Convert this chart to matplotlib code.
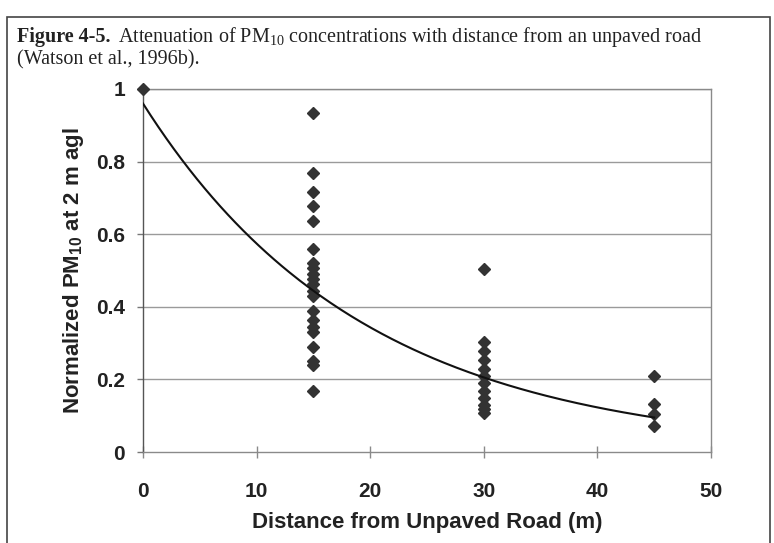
import numpy as np
import matplotlib
matplotlib.use("Agg")
import matplotlib.pyplot as plt
from matplotlib.patches import Rectangle

plt.rcParams['mathtext.fontset'] = 'custom'
plt.rcParams['mathtext.rm'] = 'Liberation Serif'
plt.rcParams['mathtext.sf'] = 'Liberation Sans:bold'

# Data
dist_0 = [0]
vals_0 = [1.00]
dist_15 = [15] * 21
vals_15 = [0.933, 0.769, 0.716, 0.679, 0.637, 0.560, 0.520, 0.506, 0.491,
           0.477, 0.463, 0.444, 0.429, 0.389, 0.363, 0.344, 0.331, 0.288,
           0.250, 0.239, 0.167]
dist_30 = [30] * 12
vals_30 = [0.503, 0.302, 0.277, 0.253, 0.229, 0.210, 0.191, 0.167, 0.148,
           0.129, 0.119, 0.108]
dist_45 = [45] * 4
vals_45 = [0.210, 0.131, 0.104, 0.072]

# Exponential trendline parameters (y = a * exp(-b x))
fit_a = 0.96
fit_b = 0.0514
fit_xmax = 45

x_ticks = [0, 10, 20, 30, 40, 50]
y_ticks = [0, 0.2, 0.4, 0.6, 0.8, 1]
y_ticklabels = ['0', '0.2', '0.4', '0.6', '0.8', '1']

W, H = 774, 543
fig = plt.figure(figsize=(W / 100, H / 100), dpi=100)

# frame around the figure
fig.patches.append(Rectangle((7 / W, -0.02), (770 - 7) / W, 1 - 17 / H + 0.02,
                             transform=fig.transFigure, fill=False,
                             edgecolor='#444444', linewidth=1.2))

# title
TFS = 14.5
t1 = fig.text(17 / W, 1 - 42 / H, "Figure 4-5.", fontfamily='Liberation Serif',
              fontweight='bold', fontsize=TFS, color='#222222')
fig.canvas.draw()
bb = t1.get_window_extent()
fig.text(bb.x1 / W + 7 / W, 1 - 42 / H,
         r"Attenuation of PM$_{10}$ concentrations with distance from an unpaved road",
         fontfamily='Liberation Serif', fontsize=TFS, color='#222222')
fig.text(17 / W, 1 - 64 / H, "(Watson et al., 1996b).",
         fontfamily='Liberation Serif', fontsize=TFS, color='#222222')

ax = fig.add_axes([143 / W, 1 - 452 / H, (711 - 143) / W, (452 - 89) / H])

xs = [dist_0, dist_15, dist_30, dist_45]
ys = [vals_0, vals_15, vals_30, vals_45]
for xv, yv in zip(xs, ys):
    ax.plot(xv, yv, linestyle='none', marker='D', markersize=6.5,
            color='#333333', zorder=3, clip_on=False)

xf = np.linspace(0, fit_xmax, 200)
ax.plot(xf, fit_a * np.exp(-fit_b * xf), color='#111111', linewidth=1.5, zorder=4)

ax.set_xlim(0, 50)
ax.set_ylim(0, 1)
ax.set_xticks(x_ticks)
ax.set_yticks(y_ticks)
ax.set_yticklabels(y_ticklabels)
for yv in y_ticks[1:]:
    ax.axhline(yv, color='#9a9a9a', linewidth=1.0, zorder=1)

for s in ['top', 'right', 'bottom']:
    ax.spines[s].set_color('#8a8a8a')
    ax.spines[s].set_linewidth(1.0)
ax.spines['left'].set_color('#555555')
ax.spines['left'].set_linewidth(1.0)

ax.tick_params(axis='x', direction='inout', length=9, width=1, color='#8a8a8a',
               pad=17, labelsize=15)
ax.tick_params(axis='y', direction='out', length=4, width=1, color='#777777',
               pad=9, labelsize=15)
for lab in ax.get_xticklabels() + ax.get_yticklabels():
    lab.set_fontfamily('Liberation Sans')
    lab.set_fontweight('bold')
    lab.set_color('#222222')

ax.set_xlabel("Distance from Unpaved Road (m)", fontfamily='Liberation Sans',
              fontweight='bold', fontsize=16, color='#222222', labelpad=8)
ax.set_ylabel(r"Normalized PM$_{\mathsf{10}}$ at 2 m agl", fontfamily='Liberation Sans',
              fontweight='bold', fontsize=16, color='#222222', labelpad=7)

fig.savefig("out.png", dpi=100)
